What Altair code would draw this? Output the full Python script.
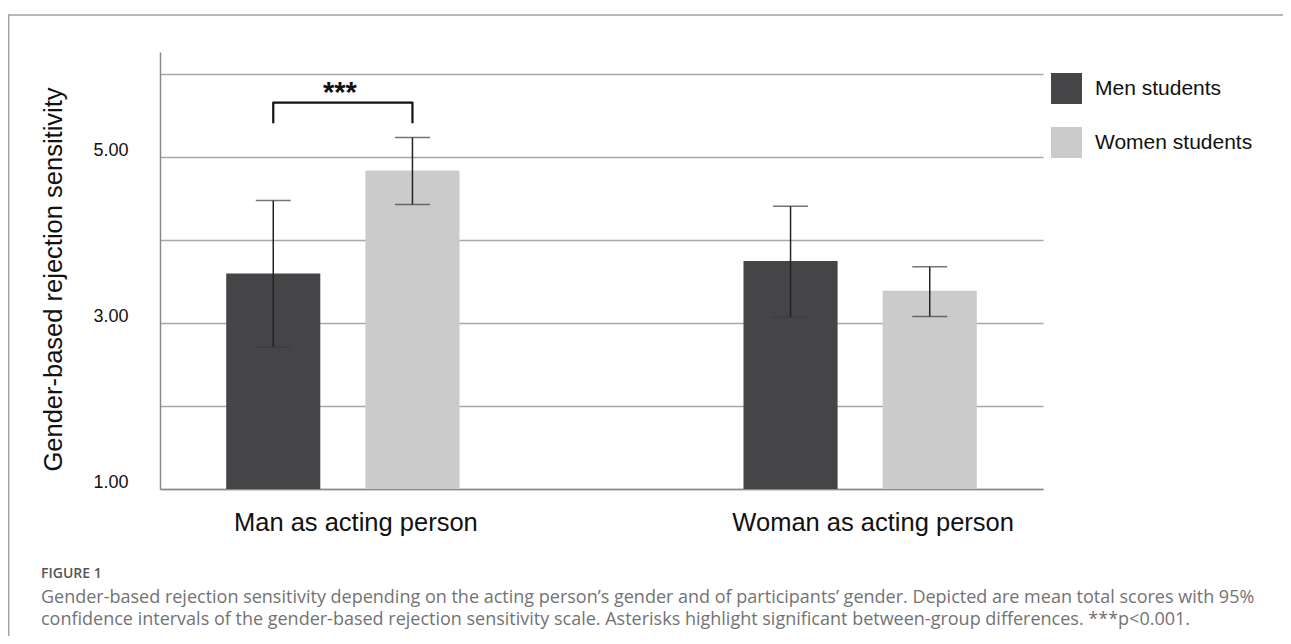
import altair as alt
import pandas as pd

# ---- data ----
groups = ["Man as acting person", "Man as acting person",
          "Woman as acting person", "Woman as acting person"]
genders = ["Men students", "Women students", "Men students", "Women students"]
means = [3.60, 4.84, 3.75, 3.39]
ci_low = [2.71, 4.43, 3.07, 3.08]
ci_high = [4.48, 5.24, 4.41, 3.68]

y_ticks = [1, 2, 3, 4, 5, 6]
y_labels = ["1.00", "", "3.00", "", "5.00", ""]

bracket_group = ["Man as acting person"] * 4
bracket_gender = ["Men students", "Men students", "Women students", "Women students"]
bracket_y = [5.41, 5.66, 5.66, 5.41]
sig_group = ["Man as acting person"]
sig_text = ["***"]
sig_y = [5.67]

caption_title = "FIGURE 1"
caption_lines = [
    "Gender-based rejection sensitivity depending on the acting person\u2019s gender and of participants\u2019 gender. Depicted are mean total scores with 95%",
    "confidence intervals of the gender-based rejection sensitivity scale. Asterisks highlight significant between-group differences. ***p<0.001.",
]

df = pd.DataFrame({"group": groups, "gender": genders, "mean": means,
                   "lo": ci_low, "hi": ci_high})
br = pd.DataFrame({"group": bracket_group, "gender": bracket_gender,
                   "y": bracket_y, "idx": list(range(len(bracket_y)))})
sg = pd.DataFrame({"group": sig_group, "text": sig_text, "y": sig_y})

FONT = "Liberation Sans"
CAP_FONT = "Open Sans"
label_expr = " ".join(f"datum.value == {v} ? '{l}' :" for v, l in zip(y_ticks, y_labels)) + " ''"

xenc = alt.X("group:N",
             scale=alt.Scale(paddingInner=0.549, paddingOuter=0.128),
             axis=alt.Axis(title=None, labelAngle=0, ticks=False, labelLimit=0,
                           domainColor="#8a8a8a", domainWidth=1.5,
                           labelFont=FONT, labelFontSize=25.5, labelColor="#111111",
                           labelPadding=21, labelOffset=13))
xoff = alt.XOffset("gender:N", scale=alt.Scale(paddingInner=0.324, paddingOuter=0))
yscale = alt.Scale(domain=[1, 6.27], zero=False, nice=False)
yaxis = alt.Axis(values=y_ticks, labelExpr=label_expr, grid=True,
                 gridColor="#a8a8a8", gridWidth=1.5,
                 domainColor="#8a8a8a", domainWidth=1.5, ticks=False,
                 labelFont=FONT, labelFontSize=18, labelColor="#111111",
                 labelPadding=32, labelBaseline="alphabetic", labelOffset=-2,
                 title="Gender-based rejection sensitivity",
                 titleFont=FONT, titleFontSize=25.5, titleFontWeight="normal",
                 titleColor="#111111", titleAngle=270, titleX=-98.5, titleY=227,
                 titleBaseline="alphabetic", titleAlign="center")

base = alt.Chart(df)

bars = base.mark_bar().encode(
    x=xenc, xOffset=xoff,
    y=alt.Y("mean:Q", scale=yscale, axis=yaxis),
    y2=alt.datum(1),
    color=alt.Color("gender:N",
                    scale=alt.Scale(domain=["Men students", "Women students"],
                                    range=["#454547", "#cbcbcb"]),
                    legend=alt.Legend(title=None, orient="none", legendX=891, legendY=21,
                                      symbolType="square", symbolSize=961,
                                      symbolStrokeWidth=0, labelFont=FONT,
                                      labelFontSize=21, labelColor="#111111",
                                      labelOffset=13, rowPadding=23, padding=0)),
)

err = base.mark_rule(color="#222222", strokeWidth=1.5).encode(
    x=xenc, xOffset=xoff, y="lo:Q", y2="hi:Q")
cap_hi = base.mark_tick(color="#3a3a3a", thickness=1.5, size=35).encode(
    x=xenc, xOffset=xoff, y="hi:Q")
cap_lo = base.mark_tick(color="#3a3a3a", thickness=1.5, size=35).encode(
    x=xenc, xOffset=xoff, y="lo:Q")

bracket = alt.Chart(br).mark_line(color="#111111", strokeWidth=2.2,
                                  strokeJoin="round").encode(
    x=xenc, xOffset=xoff, y="y:Q", order="idx:Q")
stars = alt.Chart(sg).mark_text(font=FONT, fontSize=29, fontWeight="bold",
                                color="#111111", baseline="alphabetic", dx=-3).encode(
    x=xenc, y="y:Q", text="text:N")

one = alt.Data(values=[{}])
frame_top = alt.Chart(one).mark_rule(color="#a0a0a0", strokeWidth=1.5).encode(
    x=alt.value(-152), x2=alt.value(1123), y=alt.value(-37))
frame_left = alt.Chart(one).mark_rule(color="#a0a0a0", strokeWidth=1.5).encode(
    x=alt.value(-151.3), y=alt.value(-37), y2=alt.value(584))

cap0 = alt.Chart(one).mark_text(font=CAP_FONT, fontSize=14, fontWeight=600, color="#555555",
                                align="left", baseline="alphabetic").encode(
    x=alt.value(-119), y=alt.value(526), text=alt.value(caption_title))
cap1 = alt.Chart(one).mark_text(font=CAP_FONT, fontSize=18, color="#737373",
                                align="left", baseline="alphabetic").encode(
    x=alt.value(-119), y=alt.value(551), text=alt.value(caption_lines[0]))
cap2 = alt.Chart(one).mark_text(font=CAP_FONT, fontSize=18, color="#737373",
                                align="left", baseline="alphabetic").encode(
    x=alt.value(-119), y=alt.value(573), text=alt.value(caption_lines[1]))

chart = alt.layer(frame_top, frame_left, bars, err, cap_hi, cap_lo, bracket, stars,
                  cap0, cap1, cap2).properties(
    width=883, height=437,
    autosize=alt.AutoSizeParams(type="none"),
    padding={"left": 152, "top": 44, "right": 240, "bottom": 147},
).configure_view(stroke=None)

chart.save("out.html", embed_options={"renderer": "svg", "actions": False})
